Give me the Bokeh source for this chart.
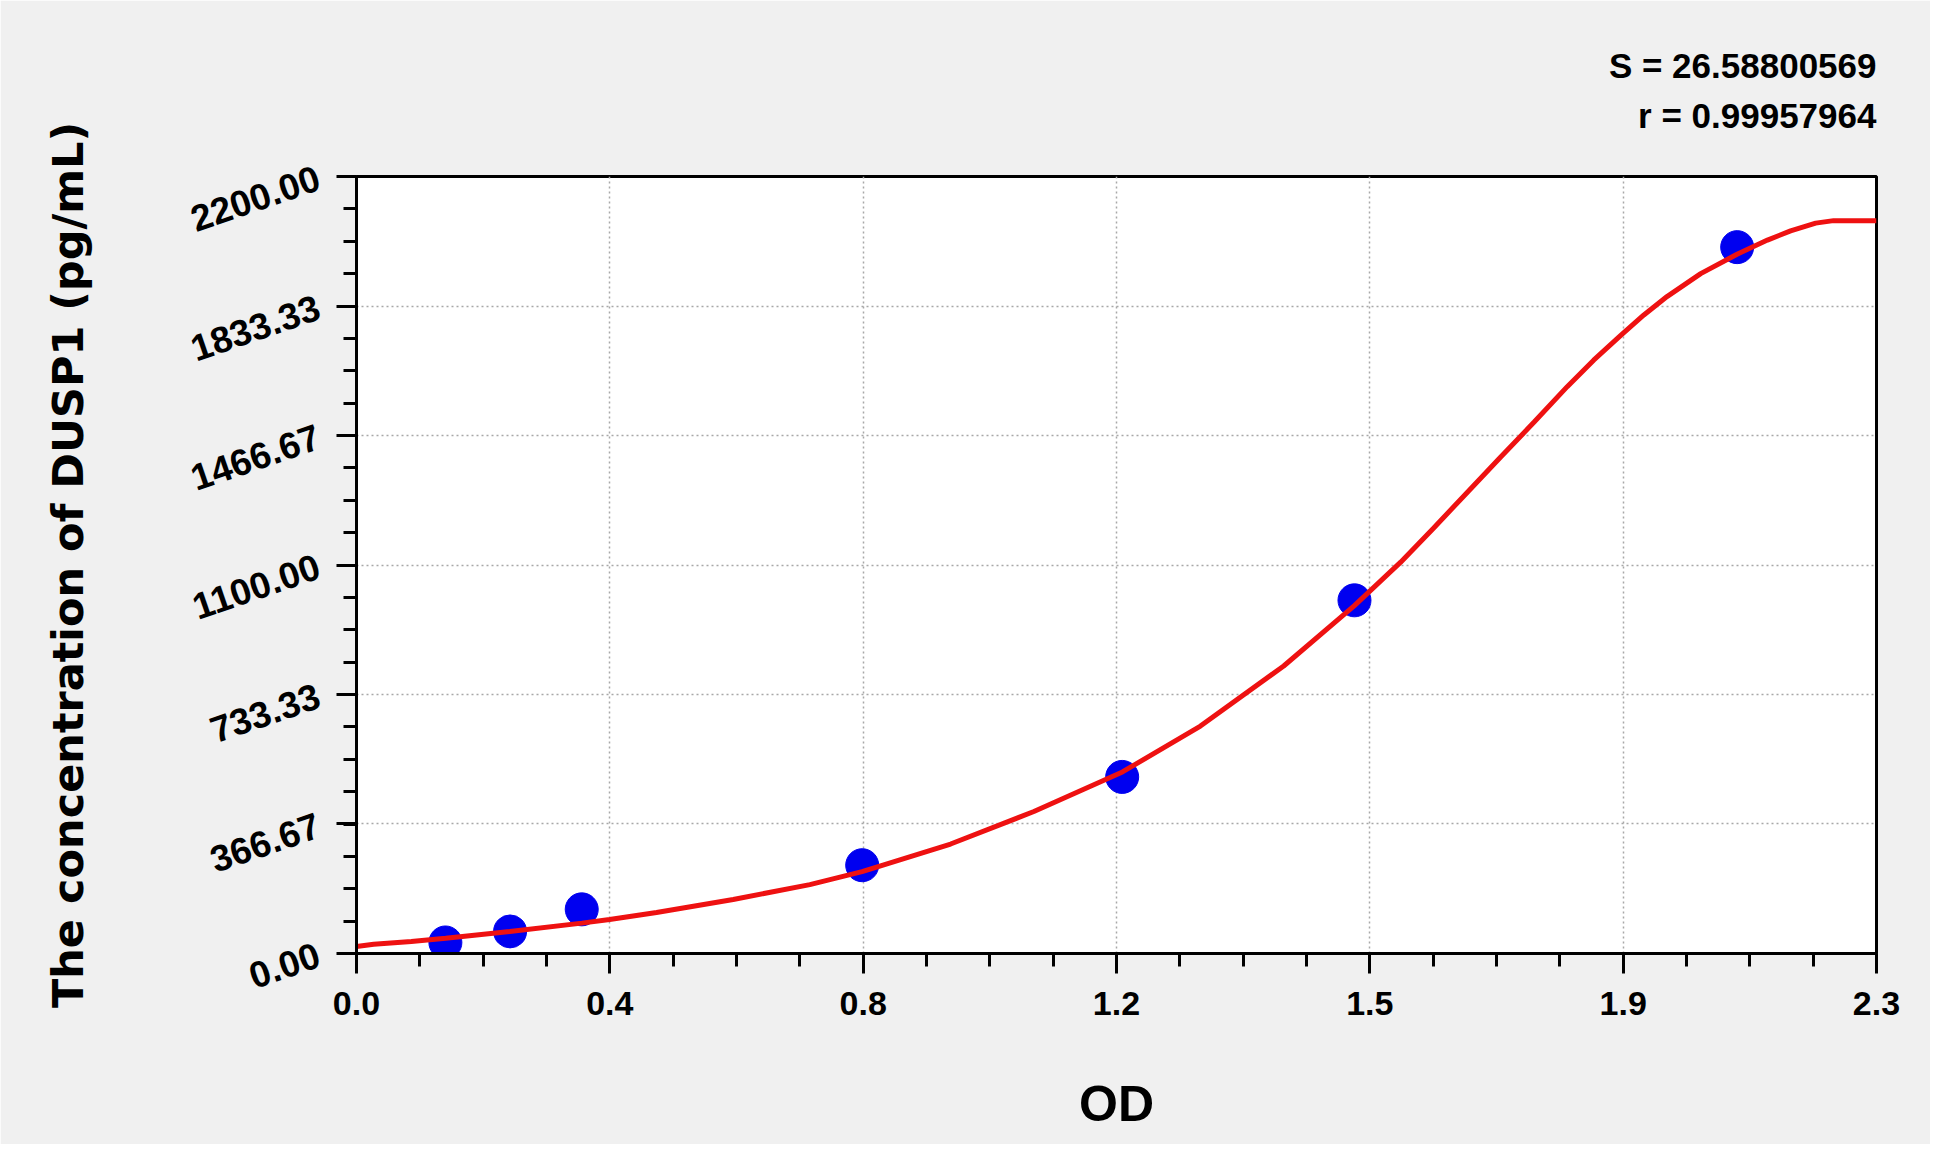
from bokeh.plotting import figure
from bokeh.models import Range1d, FixedTicker, Title
from bokeh.embed import file_html
from bokeh.resources import INLINE

# ---- data ----
std_od = [0.1345, 0.2324, 0.3408, 0.7652, 1.1586, 1.5101, 2.0892]
std_conc = [31.25, 62.5, 125.0, 250.0, 500.0, 1000.0, 2000.0]

curve_od = [0.0, 0.026, 0.083, 0.135, 0.232, 0.341, 0.383, 0.454, 0.570, 0.686,
            0.765, 0.899, 1.025, 1.159, 1.277, 1.403, 1.510, 1.580, 1.630, 1.681,
            1.731, 1.782, 1.832, 1.872, 1.913, 1.948, 1.983, 2.034, 2.089, 2.135,
            2.170, 2.208, 2.235, 2.300]
curve_conc = [20, 26, 34, 43, 62, 86, 96, 116, 153, 195,
              232, 310, 402, 514, 644, 814, 985, 1108, 1205, 1306,
              1405, 1505, 1605, 1680, 1750, 1808, 1860, 1925, 1980, 2020,
              2046, 2068, 2075, 2075]

x_tick_values = [0.0, 0.38333, 0.76667, 1.15, 1.53333, 1.91667, 2.3]
x_tick_labels = ["0.0", "0.4", "0.8", "1.2", "1.5", "1.9", "2.3"]
y_tick_values = [0.0, 366.667, 733.333, 1100.0, 1466.667, 1833.333, 2200.0]
y_tick_labels = ["0.00", "366.67", "733.33", "1100.00", "1466.67", "1833.33", "2200.00"]

stat_lines = ["S = 26.58800569", "r = 0.99957964"]
x_title = "OD"
y_title = "The concentration of DUSP1 (pg/mL)"

FONT = "Liberation Sans"

# ---- figure ----
p = figure(width=1930, height=1144, output_backend="svg", toolbar_location=None,
           title=None,
           x_range=Range1d(0, 2.3), y_range=Range1d(0, 2200),
           min_border_left=356, min_border_right=54, min_border_top=176,
           min_border_bottom=191)
p.border_fill_color = "#f0f0f0"
p.background_fill_color = "white"
p.outline_line_color = "black"
p.outline_line_width = 3

x_minor = [i * 2.3 / 24 for i in range(25)]
y_minor = [i * 2200 / 24 for i in range(25)]
p.xaxis.ticker = FixedTicker(ticks=x_tick_values, minor_ticks=x_minor)
p.yaxis.ticker = FixedTicker(ticks=y_tick_values, minor_ticks=y_minor)
p.xaxis.major_label_overrides = {v: l for v, l in zip(x_tick_values, x_tick_labels)}
p.yaxis.major_label_overrides = {v: l for v, l in zip(y_tick_values, y_tick_labels)}

for ax in (p.xaxis, p.yaxis):
    ax.axis_line_color = "black"
    ax.axis_line_width = 3
    ax.major_tick_line_color = "black"
    ax.major_tick_line_width = 3
    ax.minor_tick_line_color = "black"
    ax.minor_tick_line_width = 3
    ax.major_tick_in = 0
    ax.major_tick_out = 20
    ax.minor_tick_in = 0
    ax.minor_tick_out = 13
    ax.major_label_text_font = FONT
    ax.major_label_text_font_style = "bold"
    ax.major_label_text_color = "black"
    ax.axis_label_text_color = "black"
    ax.axis_label_text_font_style = "bold"

p.xaxis.major_label_text_font_size = "34px"
p.xaxis.major_label_standoff = 18
p.xaxis.axis_label = x_title
p.xaxis.axis_label_text_font = FONT
p.xaxis.axis_label_text_font_size = "50px"
p.xaxis.axis_label_standoff = 58

p.yaxis.major_label_text_font_size = "37px"
p.yaxis.major_label_orientation = 0.33
p.yaxis.major_label_standoff = 18
p.yaxis.axis_label = y_title
p.yaxis.axis_label_text_font = "DejaVu Sans"
p.yaxis.axis_label_text_font_size = "43px"
p.yaxis.axis_label_standoff = 88

for g in (p.xgrid, p.ygrid):
    g.grid_line_color = "#a8a8a8"
    g.grid_line_dash = "2 3"
    g.grid_line_width = 1.5
p.xgrid.ticker = FixedTicker(ticks=x_tick_values)
p.ygrid.ticker = FixedTicker(ticks=y_tick_values)

p.scatter(std_od, std_conc, size=33, color="#0000f0", line_color="#0000f0")
p.line(curve_od, curve_conc, line_color="#ee1111", line_width=5)

# stats text, right-aligned above the frame; the shorter line is padded with
# no-break spaces so both lines end at the frame's right edge
pad = "\u00a0" * 3
stats_text = stat_lines[0] + "\n" + pad + stat_lines[1]
p.add_layout(Title(text=stats_text, align="right", text_font=FONT,
                   text_font_style="bold", text_font_size="35px",
                   text_line_height=1.3, text_color="black", standoff=82),
             "above")

html = file_html(p, INLINE)
html = html.replace("<body>", '<body style="background-color:#f0f0f0;">', 1)
open("out.html", "w").write(html)
